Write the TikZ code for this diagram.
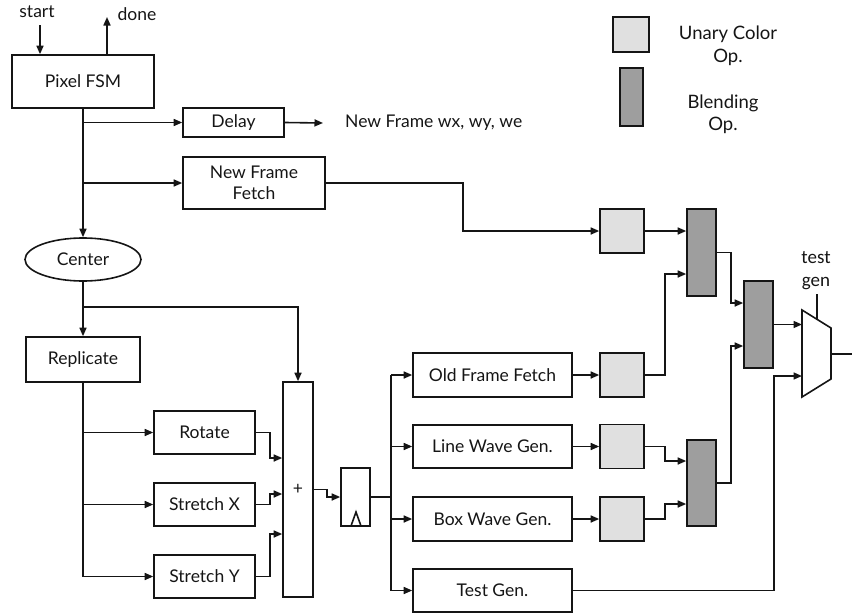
\documentclass[tikz,border=0pt]{standalone}
\usepackage{fontspec}
\setmainfont{Lato}
\newfontfamily\labelfont{Carlito}
\usetikzlibrary{arrows.meta,shapes.geometric}
\definecolor{unaryfill}{HTML}{E0E0E0}
\definecolor{blendfill}{HTML}{9E9E9E}
\definecolor{ink}{HTML}{151515}
\begin{document}
\begin{tikzpicture}[x=1pt,y=-1pt,
  every node/.style={font=\fontsize{17.5}{21}\selectfont, text=ink},
  line/.style={draw=ink, line width=1.6pt},
  arr/.style={line, -{Triangle[length=8.5pt,width=7pt]}},
  blk/.style={line, rectangle, inner sep=0pt, align=center},
  unary/.style={blk, fill=unaryfill, minimum width=44pt, minimum height=44pt},
  blend/.style={blk, fill=blendfill, minimum width=29pt, minimum height=87pt}]
\clip (0,0) rectangle (852,613);

% control and top-level blocks
\node[blk, minimum width=142pt, minimum height=53pt] (fsm) at (83,81.5) {Pixel FSM};
\node[blk, minimum width=101pt, minimum height=29pt] (delay) at (233.5,122.5) {Delay};
\node[blk, minimum width=142pt, minimum height=52pt] (nff) at (254,183) {New Frame\\Fetch};
\node[line, ellipse, inner sep=0pt, minimum width=116pt, minimum height=43pt] (ctr) at (83,259.5) {Center};
\node[blk, minimum width=114pt, minimum height=45pt] (repl) at (83,359.5) {Replicate};

% transforms
\node[blk, minimum width=101pt, minimum height=43pt] (rot) at (204.5,432.5) {Rotate};
\node[blk, minimum width=101pt, minimum height=43pt] (sx) at (204.5,504.5) {Stretch X};
\node[blk, minimum width=101pt, minimum height=43pt] (sy) at (204.5,576.5) {Stretch Y};
\node[blk, minimum width=30pt, minimum height=215pt] (plus) at (298,489.5) {+};
\node[blk, minimum width=29pt, minimum height=58pt] (reg) at (355.5,497) {};
\draw[line, line join=miter] (351,526) -- (356,512) -- (361,526);

% generators
\node[blk, minimum width=159pt, minimum height=44pt] (off) at (492.5,375) {Old Frame Fetch};
\node[blk, minimum width=159pt, minimum height=43pt] (lwg) at (492.5,446.5) {Line Wave Gen.};
\node[blk, minimum width=159pt, minimum height=44pt] (bwg) at (492.5,519) {Box Wave Gen.};
\node[blk, minimum width=159pt, minimum height=43pt] (tg) at (492.5,590.5) {Test Gen.};

% colour operators
\node[unary] (u1) at (622,231) {};
\node[unary] (u2) at (622,375) {};
\node[unary] (u3) at (622,446.5) {};
\node[unary] (u4) at (622,519) {};
\node[blend] (b1) at (701.5,252.5) {};
\node[blend] (b2) at (758.5,324.5) {};
\node[blend, minimum height=86pt] (b3) at (701.5,483) {};

% output multiplexer
\coordinate (m1) at (802,310);
\coordinate (m2) at (831,328);
\coordinate (m3) at (831,379);
\coordinate (m4) at (802,397);
\draw[line, line join=miter] (m1) -- (m2) -- (m3) -- (m4) -- cycle;
\coordinate (mi1) at (802,324.5);
\coordinate (mi2) at (802,376);
\coordinate (mo) at (831,354);
\coordinate (mout) at (862,354);
\coordinate (msel) at (817,319.3);
\node[font=\labelfont\fontsize{19}{23}\selectfont, align=center, inner sep=0pt] (tgl) at (816,271) {test\\gen};
\draw[line] (msel) -- (817,294);

% legend
\node[blk, fill=unaryfill, minimum width=36pt, minimum height=35pt] (lu) at (631,34.5) {};
\node[blk, fill=blendfill, minimum width=23pt, minimum height=58pt] (lb) at (631.5,97) {};
\node[align=center, inner sep=0pt, font=\fontsize{18.5}{23}\selectfont] (lut) at (728,46) {Unary Color\\Op.};
\node[align=center, inner sep=0pt, font=\fontsize{18.5}{22}\selectfont] (lbt) at (723,114) {Blending\\Op.};

% external signals
\node[inner sep=0pt] (start) at (37,12) {start};
\node[inner sep=0pt] (done) at (137,14) {done};
\coordinate (startin) at (40,25);
\coordinate (doneout) at (107,17);
\draw[arr] (startin) -- (startin |- fsm.north);
\draw[arr] (doneout |- fsm.north) -- (doneout);
\node[anchor=west, inner sep=0pt] (nfw) at (345,123) {New Frame wx, wy, we};

% control fan-out
\draw[arr] (fsm.south) -- (ctr.north);
\draw[arr] (fsm.south |- delay.west) -- (delay.west);
\draw[arr] (fsm.south |- nff.west) -- (nff.west);
\draw[arr] (delay.east) -- ([xshift=-22pt]nfw.west);
\coordinate (j1) at (463,0);
\draw[arr] (nff.east) -- (j1 |- nff.east) -- (j1 |- u1.west) -- (u1.west);

% coordinate path
\coordinate (ctap) at (83,307);
\draw[arr] (ctr.south) -- (repl.north);
\draw[arr] (ctap) -| (plus.north);
\draw[draw=ink, line width=2pt] (repl.south) -- (repl.south |- sy.west);
\draw[arr] (repl.south |- rot.west) -- (rot.west);
\draw[arr] (repl.south |- sx.west) -- (sx.west);
\draw[arr] (repl.south |- sy.west) -- (sy.west);
\draw[arr] (rot.east) -- ++(14,0) |- ([yshift=31.5pt]plus.west);
\draw[arr] (sx.east) -- ++(14,0) |- ([yshift=-4.5pt]plus.west);
\draw[arr] (sy.east) -- ++(14,0) |- ([yshift=-44.5pt]plus.west);
\draw[arr] (plus.east) -- ++(13,0) |- (reg.west);

% generator fan-out
\coordinate (fx) at (391,0);
\draw[draw=ink, line width=2.2pt] (reg.east) -- (fx |- reg.east);
\draw[line] (fx |- off.west) -- (fx |- tg.west);
\draw[arr] (fx |- off.west) -- (off.west);
\draw[arr] (fx |- lwg.west) -- (lwg.west);
\draw[arr] (fx |- bwg.west) -- (bwg.west);
\draw[arr] (fx |- tg.west) -- (tg.west);

% colour pipeline
\draw[arr] (off.east) -- (u2.west);
\draw[arr] (lwg.east) -- (u3.west);
\draw[arr] (bwg.east) -- (u4.west);
\draw[arr] (u1.east) -- (u1.east -| b1.west);
\draw[arr] (u2.east) -- ++(20,0) |- ([yshift=-21.5pt]b1.west);
\draw[arr] (u3.east) -- ++(20,0) |- ([yshift=22pt]b3.west);
\draw[arr] (u4.east) -- ++(20,0) |- ([yshift=-21pt]b3.west);
\draw[arr] (b1.east) -- ++(14,0) |- ([yshift=21.5pt]b2.west);
\draw[arr] (b3.east) -- ++(14,0) |- ([yshift=-21.5pt]b2.west);
\draw[arr] (b2.east) -- (mi1);
\draw[arr] (tg.east) -- (tg.east -| b2.east) |- (mi2);
\draw[arr] (mo) -- (mout);
\end{tikzpicture}
\end{document}
